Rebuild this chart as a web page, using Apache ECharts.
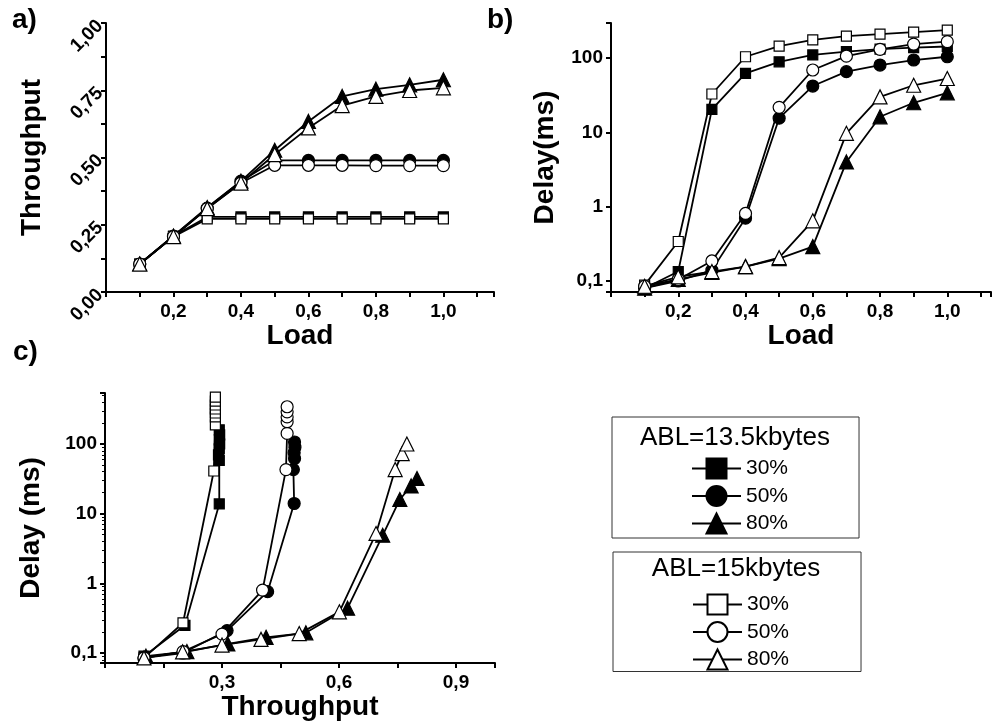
<!DOCTYPE html>
<html>
<head>
<meta charset="utf-8">
<script src="https://cdn.jsdelivr.net/npm/echarts@6/dist/echarts.min.js"></script>
<style>
  html, body {margin: 0; padding: 0; background: #fff;}
  #chart {width: 994px; height: 724px;}
</style>
</head>
<body>
<div id="chart"></div>
<script>
// Panels a) and b): offered load on x
const loads = [0.1, 0.2, 0.3, 0.4, 0.5, 0.6, 0.7, 0.8, 0.9, 1.0]

// a) throughput per load
const thrSq13 = [0.104, 0.208, 0.279, 0.279, 0.279, 0.279, 0.279, 0.279, 0.279, 0.279]
const thrCi13 = [0.104, 0.208, 0.312, 0.412, 0.489, 0.489, 0.489, 0.489, 0.489, 0.489]
const thrTr13 = [0.104, 0.208, 0.314, 0.412, 0.527, 0.634, 0.727, 0.754, 0.770, 0.789]
const thrSq15 = [0.104, 0.206, 0.272, 0.272, 0.272, 0.272, 0.272, 0.272, 0.272, 0.272]
const thrCi15 = [0.104, 0.206, 0.310, 0.405, 0.471, 0.471, 0.471, 0.470, 0.470, 0.470]
const thrTr15 = [0.104, 0.206, 0.310, 0.405, 0.511, 0.610, 0.693, 0.727, 0.749, 0.759]

// b) delay (ms) per load
const dlySq13 = [0.08, 0.134, 20.4, 62, 89, 110, 122, 132, 138, 143]
const dlyCi13 = [0.08, 0.1, 0.14, 0.70, 15.5, 42, 65.5, 80.5, 94, 104]
const dlyTr13 = [0.08, 0.105, 0.13, 0.156, 0.2, 0.29, 4.0, 16.2, 25, 34]
const dlySq15 = [0.088, 0.34, 32.8, 104, 145, 175, 197, 210, 223, 238]
const dlyCi15 = [0.085, 0.105, 0.186, 0.81, 21.7, 69, 106, 131, 154, 166]
const dlyTr15 = [0.085, 0.114, 0.134, 0.156, 0.206, 0.645, 9.7, 30, 43, 53]

// c) delay vs throughput
const cSq13T = [0.1, 0.205, 0.293, 0.293, 0.291, 0.293, 0.294, 0.293, 0.294, 0.293]
const cSq13D = [0.09, 0.25, 13.8, 58, 70, 85, 100, 115, 135, 160]
const cCi13T = [0.1, 0.2, 0.313, 0.417, 0.485, 0.483, 0.486, 0.485, 0.487, 0.486]
const cCi13D = [0.085, 0.1, 0.21, 0.76, 14, 43, 62, 75, 90, 107]
const cTr13T = [0.105, 0.21, 0.315, 0.413, 0.515, 0.622, 0.712, 0.756, 0.785, 0.8]
const cTr13D = [0.09, 0.105, 0.135, 0.168, 0.195, 0.44, 4.9, 16, 25, 32]
const cSq15T = [0.1, 0.2, 0.279, 0.283, 0.283, 0.283, 0.283, 0.283, 0.283, 0.283]
const cSq15D = [0.085, 0.27, 41, 188, 245, 279, 318, 363, 414, 472]
const cCi15T = [0.1, 0.2, 0.3, 0.404, 0.464, 0.467, 0.467, 0.467, 0.467, 0.467]
const cCi15D = [0.085, 0.105, 0.187, 0.8, 43, 142, 209, 245, 290, 343]
const cTr15T = [0.1, 0.199, 0.3, 0.4, 0.498, 0.601, 0.695, 0.744, 0.762, 0.774]
const cTr15D = [0.085, 0.104, 0.13, 0.157, 0.19, 0.39, 5.2, 43, 73, 100]

const FONT = "'Liberation Sans', Arial, sans-serif"
const pairs = (xs, ys) => xs.map((x, i) => [x, ys[i]])
const comma = s => s.replace(".", ",")

function evenTenth(v) {
  const t = v * 10
  return Math.abs(t - Math.round(t)) < 1e-6 && Math.round(t) % 2 === 0 && v > 0 && v < 1.01
}

function isDecade(v) {
  const l = Math.log10(v)
  return Math.abs(l - Math.round(l)) < 1e-6
}

const axisBase = {
  axisLine: {lineStyle: {color: "#000", width: 2}},
  axisTick: {inside: false, length: 5, lineStyle: {color: "#000", width: 2}},
  splitLine: {show: false},
  nameLocation: "middle",
  nameTextStyle: {color: "#000", fontWeight: "bold", fontSize: 28, fontFamily: FONT},
}
const labelBase = {color: "#000", fontWeight: "bold", fontSize: 19, fontFamily: FONT, interval: 0}

const kinds = [
  {key: "13.5 30%", symbol: "rect", size: 10, filled: true},
  {key: "13.5 50%", symbol: "circle", size: 12, filled: true},
  {key: "13.5 80%", symbol: "triangle", size: 14, filled: true},
  {key: "15 30%", symbol: "rect", size: 10, filled: false},
  {key: "15 50%", symbol: "circle", size: 12, filled: false},
  {key: "15 80%", symbol: "triangle", size: 14, filled: false},
]

function line(kind, gridIndex, data) {
  return {
    name: kind.key,
    type: "line",
    xAxisIndex: gridIndex,
    yAxisIndex: gridIndex,
    data,
    symbol: kind.symbol,
    symbolSize: kind.size,
    showAllSymbol: true,
    animation: false,
    lineStyle: {color: "#000", width: 1.8},
    itemStyle: {color: kind.filled ? "#000" : "#fff", borderColor: "#000", borderWidth: 1.2},
    z: kind.filled ? 2 : 3,
  }
}

const aData = [thrSq13, thrCi13, thrTr13, thrSq15, thrCi15, thrTr15]
const bData = [dlySq13, dlyCi13, dlyTr13, dlySq15, dlyCi15, dlyTr15]
const cData = [
  pairs(cSq13T, cSq13D), pairs(cCi13T, cCi13D), pairs(cTr13T, cTr13D),
  pairs(cSq15T, cSq15D), pairs(cCi15T, cCi15D), pairs(cTr15T, cTr15D),
]

const series = []
kinds.forEach((k, i) => {
  series.push(line(k, 0, pairs(loads, aData[i])))
  series.push(line(k, 1, pairs(loads, bData[i])))
  series.push(line(k, 2, cData[i]))
})

const legendBase = {
  orient: "vertical",
  itemWidth: 49,
  itemHeight: 25,
  itemGap: 5.5,
  borderColor: "#333",
  borderWidth: 1,
  selectedMode: false,
  formatter: n => n.split(" ")[1],
  textStyle: {fontSize: 21, fontFamily: FONT, color: "#000"},
}

const option = {
  backgroundColor: "#fff",
  animation: false,
  grid: [
    {left: 106, top: 23, width: 388, height: 269},
    {left: 611, top: 23, width: 381, height: 269},
    {left: 105, top: 393, width: 390, height: 270},
  ],
  xAxis: [
    {
      ...axisBase, gridIndex: 0, type: "value", min: 0, max: 1.15, interval: 0.1,
      name: "Load", nameGap: 28,
      axisLabel: {...labelBase, margin: 10, formatter: v => (evenTenth(v) ? comma(v.toFixed(1)) : "")},
    },
    {
      ...axisBase, gridIndex: 1, type: "value", min: 0, max: 1.13, interval: 0.1,
      name: "Load", nameGap: 28,
      axisLabel: {...labelBase, margin: 10, formatter: v => (evenTenth(v) ? comma(v.toFixed(1)) : "")},
    },
    {
      ...axisBase, gridIndex: 2, type: "value", min: 0, max: 1.0, interval: 0.15,
      name: "Throughput", nameGap: 26,
      axisLabel: {
        ...labelBase, margin: 10,
        formatter: v => ([0.3, 0.6, 0.9].some(t => Math.abs(t - v) < 1e-6) ? comma(v.toFixed(1)) : ""),
      },
    },
  ],
  yAxis: [
    {
      ...axisBase, gridIndex: 0, type: "value", min: 0, max: 1, interval: 0.25,
      name: "Throughput", nameGap: 60,
      minorTick: {show: true, splitNumber: 2, length: 5, lineStyle: {color: "#000", width: 2}},
      axisLabel: {...labelBase, rotate: 45, margin: 6, formatter: v => comma(v.toFixed(2))},
    },
    {
      ...axisBase, gridIndex: 1, type: "log", logBase: 10, min: 0.0711, max: 296,
      name: "Delay(ms)", nameGap: 52,
      axisLabel: {...labelBase, margin: 8, formatter: v => (isDecade(v) ? comma(String(+v.toPrecision(3))) : "")},
    },
    {
      ...axisBase, gridIndex: 2, type: "log", logBase: 10, min: 0.0719, max: 540,
      name: "Delay (ms)", nameGap: 60,
      minorTick: {show: true, splitNumber: 9, length: 3, lineStyle: {color: "#000", width: 1}},
      axisLabel: {...labelBase, margin: 8, formatter: v => (isDecade(v) ? comma(String(+v.toPrecision(3))) : "")},
    },
  ],
  legend: [
    {...legendBase, data: ["13.5 30%", "13.5 50%", "13.5 80%"], left: 612, top: 417, padding: [40.5, 71, 3.5, 79]},
    {...legendBase, data: ["15 30%", "15 50%", "15 80%"], left: 613, top: 552, padding: [41.5, 72, 1, 79]},
  ],
  graphic: [
    {type: "text", left: 12, top: 6, style: {text: "a)", font: `bold 28px ${FONT}`, fill: "#000"}},
    {type: "text", left: 487, top: 6, style: {text: "b)", font: `bold 28px ${FONT}`, fill: "#000"}},
    {type: "text", left: 13, top: 338, style: {text: "c)", font: `bold 28px ${FONT}`, fill: "#000"}},
    {type: "text", x: 735, y: 438, style: {text: "ABL=13.5kbytes", font: `26px ${FONT}`, fill: "#000", align: "center", verticalAlign: "middle"}},
    {type: "text", x: 736, y: 569, style: {text: "ABL=15kbytes", font: `26px ${FONT}`, fill: "#000", align: "center", verticalAlign: "middle"}},
  ],
  series,
}

const chart = echarts.init(document.getElementById("chart"), null, {renderer: "canvas"})
chart.setOption(option)
</script>
</body>
</html>
